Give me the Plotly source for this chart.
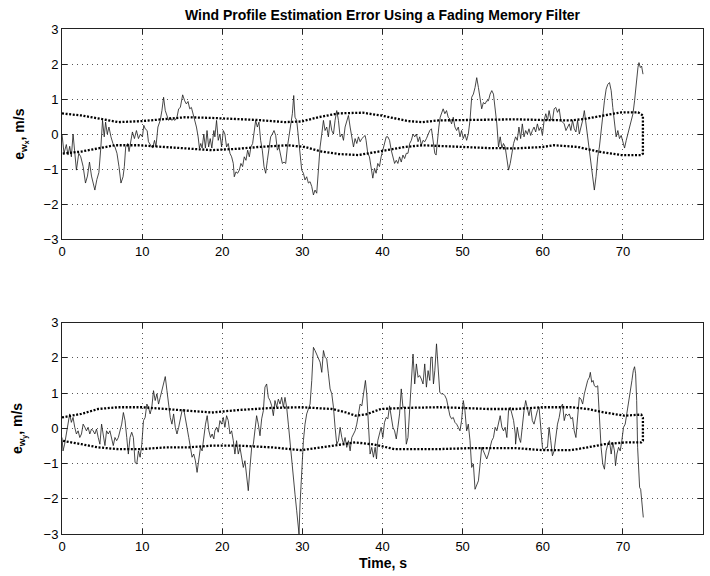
import plotly.graph_objects as go

# ---------------- data: top panel (e_wx) ----------------
t_x_a = [0, 0.25, 0.54, 0.75, 0.96, 1.17, 1.38, 1.59, 1.80, 2.09, 2.34, 2.64, 2.93, 3.18, 3.43, 3.68, 3.89, 4.10, 4.35, 4.60,
         4.85, 5.06, 5.27, 5.44, 5.65, 5.86, 6.11, 6.36, 6.61, 6.86, 7.11, 7.36, 7.62, 7.78, 7.95, 8.2, 8.37, 8.58, 8.79, 9.04,
         9.29, 9.54, 9.79, 10.04, 10.21, 10.38, 10.63, 10.79, 11.09, 11.3, 11.55, 11.72, 11.97, 12.26, 12.47, 12.68, 12.89, 13.1, 13.3, 13.5,
         13.7, 13.9, 14.1, 14.35, 14.56, 14.77, 15.06, 15.31, 15.52, 15.73, 15.94, 16.15, 16.36, 16.57, 16.78, 16.99, 17.15, 17.32, 17.49, 17.7,
         17.9, 18.1, 18.3, 18.5, 18.7, 18.95]
e_x_a = [0.0, -0.55, -0.3, -0.6, -0.35, -0.65, 0.0, -0.55, -1.03, -0.55, -0.65, -0.93, -1.4, -1.2, -0.8, -1.2, -1.4, -1.6, -1.3, -1.1,
         -0.37, 0.39, -0.08, 0.34, 0.0, 0.2, -0.08, -0.27, -0.37, -0.55, -0.93, -1.4, -1.22, -0.93, -0.37, -0.27, -0.5, -0.18, 0.06, -0.13,
         0.1, -0.13, 0.0, -0.08, 0.25, 0.15, 0.1, -0.22, -0.32, -0.4, -0.18, -0.37, 0.2, 0.39, 0.67, 1.05, 0.67, 0.53, 0.39, 0.48,
         0.39, 0.43, 0.39, 0.48, 0.72, 0.76, 1.12, 0.95, 0.86, 0.93, 0.72, 0.76, 0.58, 0.39, 0.2, -0.08, -0.4, -0.27, -0.4, 0.0,
         -0.4, 0.1, -0.37, -0.13, -0.4, 0.1]
t_x_b = [19.08, 19.29, 19.5, 19.71, 19.92, 20.13, 20.33, 20.54, 20.75, 20.96, 21.17, 21.38, 21.5, 21.71, 21.92, 22.13, 22.33, 22.54, 22.75, 22.96,
         23.17, 23.38, 23.58, 23.79, 24.0, 24.17, 24.38, 24.58, 24.79, 25.0, 25.21, 25.42, 25.63, 25.83, 26.04, 26.25, 26.46, 26.67, 26.88, 27.08,
         27.29, 27.5, 27.71, 27.92, 28.13, 28.33, 28.54, 28.75, 28.92, 29.08, 29.29, 29.5, 29.71, 29.92, 30.13, 30.33, 30.54, 30.75, 30.96, 31.17,
         31.38, 31.58, 31.79, 32.0, 32.21, 32.42, 32.63, 32.83, 33.04, 33.25, 33.46, 33.67, 33.88, 34.08, 34.29, 34.5, 34.71, 34.92, 35.13, 35.33,
         35.54, 35.75, 35.96, 36.17, 36.38, 36.58, 36.79, 37.0, 37.21, 37.42, 37.83]
e_x_b = [-0.08, 0.39, -0.18, 0.0, -0.37, 0.1, 0.0, -0.37, -0.27, -0.55, -0.65, -0.84, -1.22, -1.08, -1.12, -1.03, -0.84, -0.93, -0.65, -0.75,
         -0.46, -0.65, -0.37, -0.27, 0.1, 0.39, 0.2, 0.34, -0.18, -0.46, -0.93, -1.12, -0.75, -0.37, -0.08, 0.0, 0.1, -0.04, -0.46, -0.37,
         -0.65, -0.84, -0.8, -0.84, -0.37, -0.08, 0.29, 0.58, 1.1, 0.48, 0.39, -0.08, -0.55, -1.03, -1.12, -1.31, -1.22, -1.4, -1.36, -1.5,
         -1.74, -1.6, -1.69, -0.93, -0.37, 0.0, 0.39, 0.1, 0.2, -0.08, 0.39, 0.1, 0.0, 0.39, 0.67, 0.39, -0.08, 0.0, -0.18, 0.2,
         0.39, 0.53, 0.2, -0.08, -0.37, -0.13, -0.27, -0.08, -0.22, -0.13, -0.04]
t_x_c = [37.95, 38.16, 38.37, 38.58, 38.79, 39.0, 39.2, 39.41, 39.62, 39.83, 40.04, 40.25, 40.46, 40.67, 40.88, 41.09, 41.3, 41.51, 41.72, 41.92,
         42.13, 42.34, 42.55, 42.76, 42.97, 43.18, 43.39, 43.6, 43.81, 44.02, 44.23, 44.44, 44.64, 44.85, 45.06, 45.27, 45.48, 45.69, 45.9, 46.11,
         46.32, 46.53, 46.69, 46.86, 47.03, 47.2, 47.36, 47.57, 47.78, 47.99, 48.2, 48.41, 48.62, 48.83, 49.04, 49.25, 49.46, 49.67, 49.87, 50.08,
         50.29, 50.5, 50.71, 50.92, 51.13, 51.34, 51.55, 51.76, 51.97, 52.18, 52.38, 52.59, 52.8, 53.01, 53.22, 53.43, 53.64, 53.85, 54.06, 54.27,
         54.48, 54.69, 54.9, 55.1, 55.31, 55.52, 55.73, 55.94, 56.15, 56.36]
e_x_c = [-0.18, -0.55, -0.65, -0.93, -1.26, -0.98, -1.12, -0.84, -0.93, -0.65, -0.46, -0.27, -0.08, -0.08, -0.18, -0.46, -0.65, -0.84, -0.75, -0.84,
         -0.65, -0.8, -0.6, -0.7, -0.55, -0.55, -0.27, -0.18, 0.0, -0.08, 0.0, -0.22, -0.08, -0.32, -0.18, -0.22, -0.13, 0.0, 0.1, 0.15,
         -0.18, -0.55, -0.6, -0.08, 0.2, 0.48, 0.62, 0.72, 0.58, 0.67, 0.48, 0.43, 0.29, 0.48, 0.2, 0.1, 0.2, -0.08, 0.1, -0.13,
         0.0, -0.18, 0.0, 0.39, 1.05, 1.14, 1.33, 1.61, 1.33, 1.05, 0.72, 0.9, 0.86, 0.95, 0.95, 1.14, 1.24, 1.14, 0.76, 0.29,
         -0.37, -0.08, -0.4, -0.27, -0.37, -0.75, -1.03, -0.84, -0.55, -0.27]
t_x_d = [56.61, 56.82, 57.03, 57.24, 57.45, 57.66, 57.87, 58.08, 58.28, 58.49, 58.7, 58.91, 59.12, 59.33, 59.54, 59.75, 59.96, 60.17, 60.38, 60.59,
         60.79, 61.0, 61.21, 61.42, 61.63, 61.84, 62.05, 62.26, 62.47, 62.68, 62.89, 63.1, 63.31, 63.51, 63.72, 63.93, 64.14, 64.35, 64.56, 64.77,
         64.98, 65.19, 65.4, 65.61, 65.82, 66.03, 66.23, 66.44, 66.65, 66.86, 67.07, 67.28, 67.49, 67.7, 67.91, 68.12, 68.33, 68.54, 68.74, 68.95,
         69.16, 69.37, 69.58, 69.79, 70.0, 70.21, 70.42, 70.63, 70.84, 71.05, 71.26, 71.46, 71.67, 71.88, 72.01, 72.18, 72.34, 72.51]
e_x_d = [-0.08, -0.18, 0.2, -0.13, 0.29, -0.08, 0.1, 0.0, 0.15, -0.04, 0.1, 0.2, 0.06, 0.29, 0.1, 0.2, -0.04, 0.39, 0.58, 0.39,
         0.67, 0.43, 0.39, 0.72, 0.76, 0.62, 0.72, 0.39, 0.34, 0.29, 0.1, 0.2, 0.29, 0.1, 0.39, 0.15, 0.06, 0.39, 0.0, 0.2,
         0.39, 0.67, 0.29, -0.08, -0.37, -0.75, -1.12, -1.6, -1.22, -0.65, -0.37, 0.1, 0.58, 0.95, 1.28, 1.42, 1.47, 1.24, 0.76, 0.29,
         -0.08, 0.1, -0.13, -0.04, -0.27, -0.4, -0.18, 0.0, 0.2, 0.39, 0.58, 0.95, 1.52, 1.9, 2.04, 1.9, 1.94, 1.71]

# bound (dotted envelope) for top panel
bx_up_t = [0, 2.4, 4.9, 7.0, 10, 12.9, 15.4, 18.7, 22, 24.5, 27.8, 29.9, 32, 34.5, 37.5, 39.8, 43.2, 45, 47, 50,
           53, 56.6, 60, 63.5, 65.2, 67.7, 69.8, 71.9, 72.5]
bx_up_v = [0.59, 0.53, 0.43, 0.34, 0.37, 0.42, 0.48, 0.46, 0.43, 0.40, 0.34, 0.36, 0.48, 0.59, 0.61, 0.53, 0.37, 0.34, 0.39, 0.40,
           0.41, 0.42, 0.40, 0.39, 0.43, 0.53, 0.62, 0.62, 0.53]
bx_lo_t = [0, 2.4, 4.5, 6.6, 9.5, 12.5, 15, 18.7, 22, 24.5, 28.2, 30.3, 32.4, 34.5, 37, 39.8, 42.8, 45, 49, 53.2,
           56.6, 60, 61.4, 64.4, 66.9, 68.5, 69.8, 72.3, 72.5]
bx_lo_v = [-0.56, -0.5, -0.4, -0.32, -0.32, -0.37, -0.41, -0.46, -0.42, -0.37, -0.32, -0.37, -0.5, -0.57, -0.6, -0.5, -0.37, -0.32, -0.37, -0.4,
           -0.41, -0.37, -0.32, -0.37, -0.5, -0.56, -0.6, -0.6, -0.56]

# ---------------- data: bottom panel (e_wy) ----------------
t_y_a = [0, 0.13, 0.33, 0.54, 0.75, 0.96, 1.17, 1.38, 1.59, 1.8, 2.01, 2.22, 2.43, 2.64, 2.85, 3.05, 3.26, 3.47, 3.68, 3.89,
         4.1, 4.31, 4.52, 4.73, 4.94, 5.15, 5.36, 5.56, 5.77, 5.98, 6.19, 6.4, 6.61, 6.82, 7.03, 7.24, 7.45, 7.66, 7.87, 8.08,
         8.28, 8.49, 8.7, 8.91, 9.12, 9.33, 9.54, 9.75, 9.96, 10.17, 10.38, 10.59, 10.79, 11.0, 11.21, 11.42, 11.63, 11.84, 12.05, 12.26,
         12.47, 12.68, 12.89, 13.1, 13.31, 13.51, 13.72, 13.93, 14.14, 14.35, 14.56, 14.77, 14.98, 15.19, 15.4, 15.61, 15.82, 16.03, 16.23, 16.44,
         16.65, 16.86, 17.07, 17.28, 17.49, 17.7, 17.91, 18.12, 18.33, 18.54, 18.74, 18.95]
e_y_a = [-0.26, -0.64, -0.45, -0.16, 0.12, 0.41, 0.17, 0.31, 0.03, -0.16, -0.07, -0.26, -0.16, 0.12, 0.03, -0.07, 0.03, -0.16, -0.02, -0.07,
         -0.16, -0.02, -0.26, -0.45, 0.12, -0.26, -0.49, -0.07, -0.16, -0.07, -0.26, -0.49, -0.26, -0.35, -0.26, -0.07, 0.12, 0.45, 0.22, -0.26,
         -0.73, -0.26, -0.11, -0.26, -0.97, -1.01, -0.64, -0.82, -0.45, 0.22, 0.31, 0.69, 0.6, 0.41, 0.6, 1.07, 0.79, 0.98, 0.69, 0.88,
         1.07, 1.26, 1.47, 1.07, 0.6, 0.31, 0.12, 0.41, 0.03, -0.16, 0.03, 0.31, 0.5, 0.55, 0.31, 0.03, -0.26, -0.54, -0.82, -0.73,
         -0.92, -1.25, -0.82, -0.54, -0.64, -0.16, 0.12, 0.36, -0.07, -0.26, -0.16, -0.3]
t_y_b = [19.08, 19.29, 19.5, 19.71, 19.92, 20.13, 20.33, 20.54, 20.75, 20.96, 21.17, 21.38, 21.58, 21.79, 22.0, 22.21, 22.42, 22.63, 22.83, 23.04,
         23.25, 23.46, 23.67, 23.88, 24.08, 24.29, 24.5, 24.71, 24.92, 25.13, 25.33, 25.54, 25.75, 25.96, 26.17, 26.38, 26.58, 26.79, 27.0, 27.21,
         27.42, 27.63, 27.83, 28.04, 28.25, 28.46, 28.67, 28.88, 29.08, 29.29, 29.42, 29.58, 29.71, 29.92, 30.13, 30.33, 30.54, 30.75, 30.96, 31.17,
         31.38, 31.58, 31.79, 32.0, 32.21, 32.42, 32.63, 32.83, 33.04, 33.25, 33.46, 33.67, 33.88, 34.08, 34.29, 34.5, 34.71, 34.92, 35.13, 35.33,
         35.54, 35.75, 35.96, 36.17, 36.38, 36.58, 36.79, 37.0, 37.21, 37.42, 37.63, 37.83]
e_y_b = [-0.07, 0.03, -0.11, 0.22, 0.12, 0.31, 0.03, 0.36, 0.22, -0.16, -0.07, -0.35, -0.73, -0.35, -0.73, -0.54, -0.82, -1.11, -0.92, -1.39,
         -1.77, -1.11, -0.54, -0.45, -0.07, 0.36, 0.12, -0.21, 0.27, 0.5, 1.17, 1.26, 0.88, 0.79, 0.64, 0.36, 0.79, 0.6, 0.83, 0.69,
         0.88, 0.6, 0.88, 0.6, 0.12, -0.45, -0.82, -1.58, -1.87, -2.34, -2.72, -3.0, -2.15, -1.11, -0.35, 0.12, 0.41, 0.55, 0.69, 1.36,
         2.3, 2.21, 2.11, 2.02, 1.88, 1.59, 2.21, 2.02, 1.97, 1.55, 1.12, 0.98, 0.6, 0.03, -0.45, -0.35, 0.03, -0.26, -0.45, -0.26,
         -0.54, -0.35, -0.64, -0.26, -0.16, -0.07, 0.12, 0.41, 0.69, 0.64, 0.98, 1.21]
t_y_c = [37.87, 38.03, 38.24, 38.45, 38.66, 38.87, 39.08, 39.25, 39.41, 39.62, 39.83, 40.04, 40.25, 40.46, 40.67, 40.88, 41.09, 41.3, 41.51, 41.72,
         41.92, 42.13, 42.34, 42.55, 42.76, 42.97, 43.18, 43.39, 43.6, 43.81, 44.02, 44.23, 44.44, 44.64, 44.85, 45.06, 45.27, 45.48, 45.69, 45.9,
         46.03, 46.19, 46.36, 46.53, 46.74, 46.95, 47.15, 47.36, 47.57, 47.78, 47.99, 48.2, 48.41, 48.62, 48.83, 49.04, 49.25, 49.46, 49.67, 49.87,
         50.08, 50.29, 50.5, 50.71, 50.92, 51.13, 51.34, 51.55, 51.76, 51.97, 52.18, 52.38, 52.59, 52.8, 53.01, 53.22, 53.43, 53.64, 53.85, 54.06,
         54.27, 54.48, 54.69, 54.9, 55.1, 55.31, 55.52, 55.73, 55.94, 56.15, 56.36, 56.57]
e_y_c = [1.36, 0.98, 0.12, -0.73, -0.54, -0.82, -0.54, -0.87, -0.35, -0.16, 0.03, -0.26, 0.17, 0.31, 0.27, 0.64, 0.31, 0.03, -0.07, -0.3,
         0.03, 0.41, 1.12, 0.6, 0.6, -0.45, -0.26, 0.6, 1.55, 2.11, 1.26, 1.83, 1.45, 1.5, 1.4, 1.26, 1.83, 1.17, 1.64, 1.36,
         2.02, 2.02, 1.26, 1.64, 2.4, 1.55, 1.02, 0.98, 0.98, 0.93, 0.83, 0.6, 0.36, 0.27, 0.31, 0.17, 0.12, 0.03, -0.07, 0.22,
         0.79, 0.5, -0.07, 0.12, -0.35, -1.11, -1.01, -1.73, -1.58, -1.49, -1.01, -0.54, -0.64, -0.78, -0.87, -0.73, -0.54, -0.35, -0.26, 0.03,
         -0.07, 0.17, 0.36, 0.03, -0.07, 0.03, -0.26, 0.5, 0.6, 0.41, 0.22, -0.16]
t_y_d = [56.61, 56.82, 57.03, 57.24, 57.45, 57.66, 57.87, 58.08, 58.28, 58.49, 58.7, 58.91, 59.12, 59.33, 59.54, 59.75, 59.96, 60.17, 60.38, 60.59,
         60.79, 61.0, 61.21, 61.42, 61.63, 61.84, 62.05, 62.26, 62.47, 62.68, 62.89, 63.1, 63.31, 63.51, 63.72, 63.93, 64.14, 64.35, 64.56, 64.77,
         64.98, 65.19, 65.4, 65.61, 65.82, 65.94, 66.11, 66.28, 66.44, 66.65, 66.86, 67.07, 67.28, 67.49, 67.7, 67.91, 68.12, 68.33, 68.54, 68.74,
         68.95, 69.08, 69.25, 69.46, 69.67, 69.87, 70.08, 70.29, 70.5, 70.71, 70.92, 71.13, 71.3, 71.46, 71.59, 71.72, 71.84, 71.97, 72.09, 72.22,
         72.38, 72.55]
e_y_d = [-0.45, 0.03, -0.26, -0.4, 0.12, 0.5, 0.79, 0.6, 0.36, 0.6, 0.22, 0.12, 0.31, 0.5, 0.6, 0.03, -0.54, -0.64, -0.54, -0.54,
         0.03, -0.35, -0.78, -0.64, -0.16, 0.12, 0.31, 0.6, 0.69, 0.22, 0.41, 0.36, 0.41, 0.27, 0.31, -0.07, -0.26, 0.41, 0.88, 0.83,
         0.69, 0.98, 1.17, 1.36, 1.45, 1.59, 1.31, 1.36, 1.21, 1.17, 1.21, 0.31, -0.54, -1.01, -1.16, -0.64, -0.45, -0.35, -0.73, -0.4,
         -0.64, -1.06, -0.73, -0.54, -0.64, -0.35, 0.03, 0.12, 0.41, 0.69, 1.07, 1.36, 1.64, 1.75, 1.55, 0.79, -0.54, -1.39, -1.68, -1.73,
         -2.25, -2.53]

by_up_t = [0, 2.4, 4.5, 7, 10, 12.9, 15.8, 18.7, 22, 26.2, 29.9, 33.7, 35.5, 36.6, 38, 39.8, 42.8, 47, 49.9, 53.2,
           56.6, 60, 63.5, 65.6, 67.7, 70.2, 72.3, 72.5]
by_up_v = [0.31, 0.41, 0.55, 0.6, 0.6, 0.55, 0.5, 0.45, 0.52, 0.58, 0.6, 0.55, 0.45, 0.36, 0.4, 0.55, 0.58, 0.6, 0.58, 0.55,
           0.55, 0.6, 0.6, 0.55, 0.45, 0.36, 0.39, 0.3]
by_lo_t = [0, 2.4, 4.5, 7, 10, 12.9, 15.8, 18.7, 22, 26.2, 29.9, 33.7, 36.6, 39, 41.5, 47, 51.1, 56.6, 60, 63.5,
           65.6, 67.7, 70.2, 72.3, 72.5]
by_lo_v = [-0.35, -0.45, -0.54, -0.59, -0.59, -0.54, -0.54, -0.49, -0.49, -0.54, -0.62, -0.49, -0.4, -0.46, -0.59, -0.59, -0.56, -0.56, -0.62, -0.62,
           -0.54, -0.45, -0.4, -0.4, -0.35]

x_ticks = [0, 10, 20, 30, 40, 50, 60, 70, 80]
y_ticks = [-3, -2, -1, 0, 1, 2, 3]

TITLE = "Wind Profile Estimation Error Using a Fading Memory Filter"
YLAB1 = "e<sub>w<sub>x</sub></sub>, m/s"
YLAB2 = "e<sub>w<sub>y</sub></sub>, m/s"
XLAB = "Time, s"

# ---------------- figure ----------------
FONT = "Liberation Sans, Arial, Helvetica, sans-serif"
SIG = dict(color="#1a1a1a", width=0.8)
ENV = dict(color="black", width=2.3, dash="2px,1.6px")

fig = go.Figure()
for ts, vs in [(t_x_a, e_x_a), (t_x_b, e_x_b), (t_x_c, e_x_c), (t_x_d, e_x_d)]:
    assert len(ts) == len(vs)
t_x = t_x_a + t_x_b + t_x_c + t_x_d
e_x = e_x_a + e_x_b + e_x_c + e_x_d
for ts, vs in [(t_y_a, e_y_a), (t_y_b, e_y_b), (t_y_c, e_y_c), (t_y_d, e_y_d)]:
    assert len(ts) == len(vs)
t_y = t_y_a + t_y_b + t_y_c + t_y_d
e_y = e_y_a + e_y_b + e_y_c + e_y_d

fig.add_trace(go.Scatter(x=t_x, y=e_x, mode="lines", line=SIG, xaxis="x", yaxis="y", cliponaxis=True))
fig.add_trace(go.Scatter(x=bx_up_t + bx_lo_t[::-1], y=bx_up_v + bx_lo_v[::-1], mode="lines", line=ENV,
                         xaxis="x", yaxis="y"))
fig.add_trace(go.Scatter(x=t_y, y=e_y, mode="lines", line=SIG, xaxis="x2", yaxis="y2", cliponaxis=True))
fig.add_trace(go.Scatter(x=by_up_t + by_lo_t[::-1], y=by_up_v + by_lo_v[::-1], mode="lines", line=ENV,
                         xaxis="x2", yaxis="y2"))

axis_common = dict(showline=True, linecolor="#222", linewidth=1, mirror="allticks",
                   ticks="inside", ticklen=5, tickwidth=1, tickcolor="#222",
                   showgrid=True, gridcolor="#555", gridwidth=1, griddash="1px,4px",
                   zeroline=False, tickfont=dict(family=FONT, size=13, color="black"))

fig.update_layout(
    width=710, height=576,
    margin=dict(l=62, r=7, t=29, b=42),
    paper_bgcolor="white", plot_bgcolor="white",
    showlegend=False,
    font=dict(family=FONT, color="black"),
    xaxis=dict(domain=[0, 1], anchor="y", range=[0, 80], tickvals=x_ticks, **axis_common),
    yaxis=dict(domain=[0.584, 1], anchor="x", range=[-3, 3], tickvals=y_ticks, **axis_common),
    xaxis2=dict(domain=[0, 1], anchor="y2", range=[0, 80], tickvals=x_ticks, **axis_common),
    yaxis2=dict(domain=[0, 0.4184], anchor="x2", range=[-3, 3], tickvals=y_ticks, **axis_common),
    annotations=[
        dict(text="<b>" + TITLE + "</b>", xref="paper", yref="paper", x=0.5, y=1, yshift=14,
             showarrow=False, font=dict(family=FONT, size=14, color="black"), xanchor="center", yanchor="middle"),
        dict(text="<b>" + YLAB1 + "</b>", xref="paper", yref="paper", x=-0.066, y=0.792, textangle=-90,
             showarrow=False, font=dict(family=FONT, size=14, color="black"), xanchor="center", yanchor="middle"),
        dict(text="<b>" + YLAB2 + "</b>", xref="paper", yref="paper", x=-0.066, y=0.2092, textangle=-90,
             showarrow=False, font=dict(family=FONT, size=14, color="black"), xanchor="center", yanchor="middle"),
        dict(text="<b>" + XLAB + "</b>", xref="paper", yref="paper", x=0.5, y=0, yshift=-29,
             showarrow=False, font=dict(family=FONT, size=14, color="black"), xanchor="center", yanchor="middle"),
    ],
)

fig.write_html("out.html")
